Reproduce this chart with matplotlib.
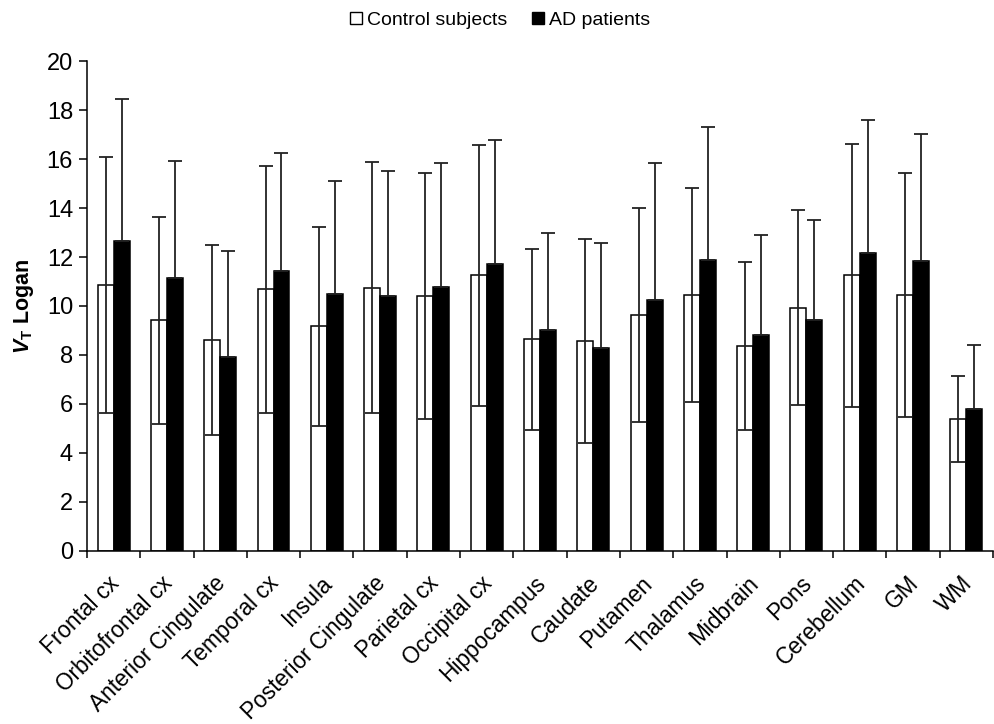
import numpy as np
import matplotlib
matplotlib.use("Agg")
import matplotlib.pyplot as plt
import matplotlib.transforms as mtransforms
from matplotlib.patches import Patch

plt.rcParams['font.family'] = ['Liberation Sans', 'DejaVu Sans']
plt.rcParams['mathtext.fontset'] = 'custom'
plt.rcParams['mathtext.rm'] = 'Liberation Sans:bold'
plt.rcParams['mathtext.it'] = 'Liberation Sans:italic:bold'
plt.rcParams['mathtext.bf'] = 'Liberation Sans:bold'

regions = ["Frontal cx", "Orbitofrontal cx", "Anterior Cingulate", "Temporal cx",
           "Insula", "Posterior Cingulate", "Parietal cx", "Occipital cx",
           "Hippocampus", "Caudate", "Putamen", "Thalamus", "Midbrain", "Pons",
           "Cerebellum", "GM", "WM"]

# mean and SD
control_mean = [10.86, 9.41, 8.60, 10.68, 9.18, 10.75, 10.39, 11.25, 8.64, 8.57,
                9.63, 10.44, 8.37, 9.93, 11.25, 10.44, 5.40]
control_sd = [5.22, 4.22, 3.88, 5.05, 4.06, 5.11, 5.02, 5.33, 3.70, 4.17,
              4.38, 4.37, 3.42, 3.98, 5.36, 4.97, 1.75]
ad_mean = [12.65, 11.15, 7.92, 11.43, 10.48, 10.39, 10.79, 11.70, 9.03, 8.29,
           10.26, 11.88, 8.83, 9.44, 12.15, 11.83, 5.81]
ad_sd = [5.81, 4.77, 4.31, 4.82, 4.63, 5.14, 5.03, 5.08, 3.93, 4.28,
         5.58, 5.43, 4.05, 4.07, 5.46, 5.21, 2.58]

x = np.arange(len(regions))
w = 0.3

fig = plt.figure(figsize=(9.95, 7.24), dpi=100)
ax = fig.add_axes([0.0874, 0.239, 0.9106, 0.6767])

err_kw = dict(ecolor='#222222', elinewidth=1.3, capsize=5, capthick=1.3)
ax.bar(x - w / 2, control_mean, w, color='white', edgecolor='black', linewidth=1.1,
       yerr=control_sd, error_kw=err_kw, label='Control subjects')
# lower half of the AD error bar is hidden inside the black bar
ax.bar(x + w / 2, ad_mean, w, color='black', edgecolor='black', linewidth=1.1,
       yerr=[np.zeros(len(ad_sd)), ad_sd], error_kw=err_kw, label='AD patients')

ax.set_xlim(-0.5, len(regions) - 0.5)
ax.set_ylim(0, 20)
ax.set_yticks(np.arange(0, 21, 2))
ax.tick_params(axis='y', labelsize=17, length=6, width=1.1, pad=4)

# boundary ticks without labels, labels on minor ticks at centres
ax.set_xticks(np.arange(len(regions) + 1) - 0.5)
ax.set_xticklabels([])
ax.tick_params(axis='x', which='major', length=5, width=1.1)
ax.set_xticks(x, minor=True)
ax.set_xticklabels(regions, minor=True, rotation=45, ha='right',
                   rotation_mode='anchor', fontsize=16.3)
ax.tick_params(axis='x', which='minor', length=0, pad=15)
shift = mtransforms.ScaledTranslation(-6 / 100, 0, fig.dpi_scale_trans)
for lab in ax.get_xticklabels(minor=True):
    lab.set_transform(lab.get_transform() + shift)

for s in ['top', 'right']:
    ax.spines[s].set_visible(False)
for s in ['left', 'bottom']:
    ax.spines[s].set_linewidth(1.1)

ax.set_ylabel(r'$V_{\mathbf{T}}$ Logan', fontsize=15.5, fontweight='bold', labelpad=8)

handles = [Patch(facecolor='white', edgecolor='black', linewidth=1.0),
           Patch(facecolor='black', edgecolor='black')]
fig.legend(handles, ['Control subjects', 'AD patients'], loc='center',
           bbox_to_anchor=(0.5025, 0.972), ncol=2, frameon=False, fontsize=14,
           handlelength=0.6, handleheight=0.6, handletextpad=0.25,
           columnspacing=1.3)

fig.savefig('out.png', dpi=100)
